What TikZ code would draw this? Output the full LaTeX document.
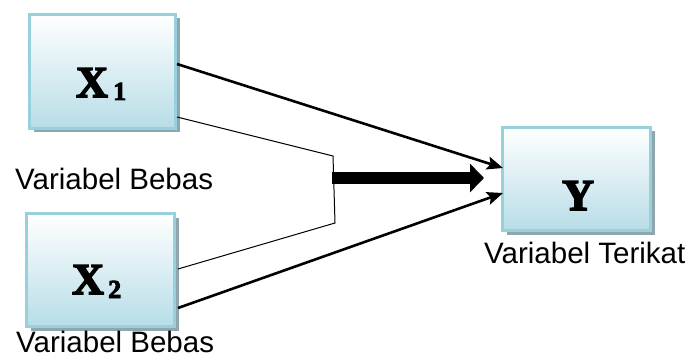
\documentclass[tikz,border=0pt]{standalone}
\usepackage{fontspec}
\setmainfont{Liberation Sans}
\newfontface\heavyserif[FakeBold=3.5]{Liberation Serif Bold}
\usetikzlibrary{arrows.meta,shadows}
\definecolor{boxblue}{HTML}{B7DDE7}
\definecolor{boxedge}{HTML}{98D0DC}
\definecolor{shadowgray}{HTML}{8FA6AC}
\tikzset{
  varbox/.style={rectangle, draw=boxedge, line width=3pt,
    top color=white, middle color=white!45!boxblue, bottom color=boxblue,
    drop shadow={shadow xshift=4pt, shadow yshift=-4pt, fill=shadowgray, opacity=1}},
  boxlabel/.style={anchor=base west, inner sep=0pt, font=\heavyserif\fontsize{44}{44}\selectfont},
  sublabel/.style={anchor=base west, inner sep=0pt, font=\heavyserif\fontsize{26}{26}\selectfont},
  caption/.style={anchor=base west, inner sep=0pt, font=\fontsize{29.5}{29.5}\selectfont},
  mainlink/.style={line width=2.6pt, -{Stealth[length=16pt, width=13pt, inset=3pt]}},
  bracket/.style={line width=1pt},
  bigarrow/.style={line width=12pt, -{Triangle[length=14pt, width=28pt]}}
}
\begin{document}
\begin{tikzpicture}[x=1pt, y=-1pt]
  \useasboundingbox (0,0) rectangle (692,358);

  % variable boxes
  \node[varbox, minimum width=146pt, minimum height=114pt] (x1) at (102.5,71.5) {};
  \node[varbox, minimum width=148pt, minimum height=113pt] (x2) at (100.5,270) {};
  \node[varbox, minimum width=148pt, minimum height=103pt] (y) at (576.5,179) {};

  % box symbols
  \node[boxlabel] (x1sym) at (76,97) {X};
  \node[sublabel] (x1sub) at (113,100) {1};
  \node[boxlabel] (x2sym) at (72,294) {X};
  \node[sublabel] (x2sub) at (108,298) {2};
  \node[boxlabel] (ysym) at (562,210) {Y};

  % captions
  \node[caption] (capx1) at (15,189) {Variabel Bebas};
  \node[caption] (capx2) at (16,352.5) {Variabel Bebas};
  \node[caption] (capy) at (484,263) {Variabel Terikat};

  % connection points
  \coordinate (x1out) at (177,64);
  \coordinate (x1low) at (177,117);
  \coordinate (x2up) at (178,269);
  \coordinate (x2out) at (178,308);
  \coordinate (brtop) at (333,156);
  \coordinate (brbot) at (335,223);
  \coordinate (yin1) at (503,168);
  \coordinate (yin2) at (503,193);
  \coordinate (jointstart) at (332,178);
  \coordinate (jointend) at (484,178);

  % individual effects
  \draw[mainlink] (x1out) -- (yin1);
  \draw[mainlink] (x2out) -- (yin2);

  % joint effect
  \draw[bracket] (x1low) -- (brtop) -- (brbot) -- (x2up);
  \draw[bigarrow] (jointstart) -- (jointend);
\end{tikzpicture}
\end{document}
